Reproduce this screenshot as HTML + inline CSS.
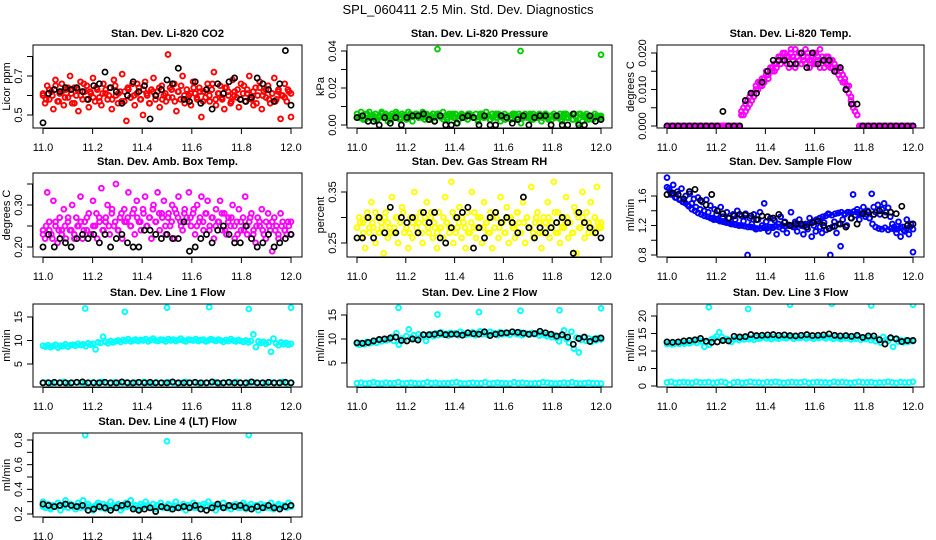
<!DOCTYPE html>
<html><head><meta charset="utf-8"><title>SPL_060411 Diagnostics</title>
<style>
body{margin:0;background:#fff;}
svg{display:block;font-family:"Liberation Sans",Arial,sans-serif;}
</style></head>
<body>
<svg id="chart" width="936" height="540" viewBox="0 0 936 540" xmlns="http://www.w3.org/2000/svg">
<text x="468" y="14" text-anchor="middle" font-size="13">SPL_060411  2.5 Min. Std. Dev. Diagnostics</text>
</svg>
<script>
// ---- data ----
const xTickVals=[11.0,11.2,11.4,11.6,11.8,12.0];
const xTickLabels=["11.0","11.2","11.4","11.6","11.8","12.0"];

const co2Red=[0.60,0.56,0.65,0.58,0.62,0.53,0.68,0.57,0.61,0.66,0.55,0.63,0.59,0.70,0.56,0.64,0.60,0.52,0.67,0.58,
0.62,0.65,0.54,0.61,0.69,0.57,0.63,0.59,0.55,0.66,0.61,0.58,0.64,0.53,0.68,0.60,0.56,0.62,0.71,0.57,
0.47,0.63,0.59,0.66,0.55,0.61,0.64,0.58,0.50,0.67,0.60,0.56,0.63,0.69,0.58,0.62,0.54,0.65,0.60,0.57,
0.81,0.64,0.59,0.66,0.52,0.62,0.58,0.70,0.56,0.63,0.60,0.55,0.67,0.61,0.58,0.64,0.49,0.62,0.59,0.66,
0.57,0.63,0.72,0.55,0.61,0.65,0.58,0.53,0.64,0.60,0.56,0.68,0.62,0.59,0.54,0.66,0.61,0.57,0.63,0.70,
0.58,0.55,0.64,0.60,0.67,0.53,0.62,0.59,0.65,0.56,0.61,0.69,0.58,0.63,0.48,0.60,0.66,0.57,0.62,0.49];
const co2RedCore=[0.61,0.58,0.63,0.60,0.65,0.57,0.62,0.59,0.64,0.61,0.56,0.63,0.60,0.66,0.58,0.62,0.59,0.64,0.57,0.61,
0.63,0.60,0.58,0.65,0.61,0.57,0.62,0.64,0.59,0.60,0.66,0.58,0.63,0.61,0.56,0.62,0.60,0.64,0.58,0.61,
0.59,0.63,0.57,0.62,0.65,0.60,0.58,0.61,0.64,0.59,0.62,0.57,0.63,0.60,0.66,0.58,0.61,0.59,0.64,0.62,
0.57,0.60,0.63,0.58,0.65,0.61,0.59,0.62,0.56,0.64,0.60,0.63,0.58,0.61,0.57,0.62,0.60,0.59,0.63,0.61];
const co2Black=[0.46,0.61,0.63,0.62,0.64,0.63,0.64,0.62,0.58,0.65,0.66,0.72,0.64,0.62,0.56,0.60,0.67,0.62,0.65,0.48,0.60,0.63,0.68,0.66,0.74,0.58,0.57,0.67,0.56,0.63,0.53,0.66,0.61,0.67,0.69,0.58,0.57,0.59,0.69,0.66,0.63,0.57,0.66,0.83,0.55];

const presGreen=[.006,.004,.007,.005,.003,.006,.007,.004,.005,.006,.003,.005,.007,.004,.006,.002,.005,.006,.004,.007,
.005,.003,.006,.005,.004,.007,.006,.002,.005,.006,.004,.005,.007,.003,.006,.005,.004,.006,.002,.005,
.006,.004,.007,.005,.003,.006,.005,.004,.006,.001,.005,.006,.004,.005,.003,.006,.005,.004,.006,.002,
.005,.006,.004,.007,.005,.003,.006,.005,.004,.006,.002,.005,.006,.004,.005,.003,.006,.005,.004,.006,
.001,.005,.006,.004,.005,.003,.006,.005,.004,.006,.002,.005,.006,.004,.005,.003,.006,.005,.004,.006,
.002,.005,.006,.004,.005,.003,.006,.005,.001,.006,.002,.005,.006,.004,.005,.003,.006,.005,.004,.005];
const presGreenCore=[.004,.005,.003,.006,.004,.005,.003,.004,.006,.005,.004,.003,.005,.006,.004,.005,.003,.004,.005,.006,
.005,.004,.006,.003,.005,.004,.006,.005,.003,.004,.005,.006,.004,.003,.005,.004,.006,.005,.004,.003,
.006,.004,.005,.003,.004,.006,.005,.004,.003,.005,.004,.006,.003,.005,.004,.005,.006,.003,.004,.005,
.004,.006,.003,.005,.004,.005,.003,.006,.004,.005,.003,.004,.006,.005,.004,.003,.005,.004,.005,.004];
const presOutX=[11.33,11.67,12.0];
const presOutY=[0.041,0.040,0.038];
const presBlack=[.004,.005,.002,.002,.000,.004,.001,.004,.000,.004,.005,.005,.006,.003,.002,.005,.000,.000,.001,.004,.005,.004,.000,.005,.000,.000,.005,.004,.001,.003,.005,.000,.004,.005,.005,.000,.005,.000,.000,.006,.000,.000,.005,.002,.003];

const tempMag=[0,0,0,0,0,0,0,0,0,0,0,0,0,0,0,0,0,0,0,0,0,0,0,0,0,0,0,0,0,0,0,0,0,0,0,0,
.004,.003,.006,.005,.008,.007,.009,.011,.010,.012,.011,.013,.014,.013,.015,.016,.015,.017,.018,
.019,.018,.020,.017,.019,.021,.018,.016,.019,.020,.017,.018,.021,.019,.016,.018,.020,.017,.019,.021,.018,.016,.019,.017,.018,.016,.017,
.015,.016,.013,.014,.012,.010,.011,.008,.006,.004,.003,
0,0,0,0,0,0,0,0,0,0,0,0,0,0,0,0,0,0,0,0,0,0,0,0,0,0,0];
const tempMagCore=[0,0,0,0,0,0,0,0,0,0,0,0,0,0,0,0,0,0,0,0,0,0,0,0,0,0,0,0,0,0,0,0,0,0,0,0,
.003,.005,.004,.007,.006,.009,.008,.010,.012,.011,.013,.012,.015,.014,.016,.015,.017,.016,.019,
.017,.020,.018,.019,.016,.020,.019,.021,.017,.018,.020,.019,.017,.020,.018,.019,.017,.020,.018,.016,.019,.018,.017,.019,.016,.018,.015,
.016,.014,.015,.012,.013,.011,.009,.007,.005,.004,.003,
0,0,0,0,0,0,0,0,0,0,0,0,0,0,0,0,0,0,0,0,0,0,0,0,0,0,0];
const tempBlack=[0,0,0,0,0,0,0,0,0,0,.004,0,0,0,.007,.009,.009,.012,.015,.018,.018,.018,.017,.017,.020,.016,.020,.017,.018,.018,.015,.016,.010,.006,.006,0,0,0,0,0,0,0,0,0,0];

const ambMag=[.24,.22,.33,.26,.23,.31,.25,.21,.27,.24,.29,.22,.26,.24,.30,.23,.27,.25,.32,.22,
.26,.24,.28,.23,.31,.25,.22,.27,.34,.24,.26,.30,.23,.28,.25,.35,.24,.27,.22,.29,
.26,.33,.25,.28,.23,.31,.26,.24,.29,.32,.25,.27,.22,.30,.26,.33,.24,.28,.31,.23,
.27,.25,.30,.22,.28,.32,.26,.24,.29,.27,.33,.25,.28,.23,.30,.26,.32,.24,.28,.31,
.25,.27,.22,.29,.26,.31,.24,.28,.23,.27,.25,.30,.22,.26,.29,.24,.27,.32,.23,.26,
.28,.24,.21,.27,.25,.29,.23,.26,.28,.24,.19,.27,.25,.22,.28,.26,.24,.23,.25,.26];
const ambMagCore=[.23,.25,.24,.22,.26,.24,.23,.25,.27,.24,.22,.25,.26,.24,.27,.23,.25,.28,.26,.24,.27,.25,.29,.26,.24,.28,.26,.27,.25,.29,.27,.26,.28,.25,.27,.29,.26,.28,.27,.25,.28,.26,.29,.27,.25,.28,.26,.27,.29,.25,.27,.26,.28,.24,.27,.25,.26,.28,.24,.26,.27,.25,.23,.26,.24,.25,.27,.23,.25,.26,.24,.22,.25,.26,.24,.23,.25,.24,.26,.23];
const ambBlack=[.20,.23,.20,.22,.21,.20,.22,.23,.22,.23,.21,.23,.20,.22,.23,.21,.20,.20,.24,.24,.23,.22,.23,.22,.22,.26,.19,.20,.22,.23,.21,.24,.25,.23,.21,.21,.25,.22,.20,.21,.23,.20,.21,.22,.23];

const rhYel=[.28,.30,.26,.29,.24,.31,.27,.33,.28,.25,.30,.27,.29,.23,.31,.26,.28,.34,.27,.30,
.25,.29,.32,.27,.28,.24,.30,.26,.35,.28,.27,.31,.25,.29,.33,.27,.30,.26,.28,.24,
.31,.28,.26,.34,.29,.27,.37,.25,.30,.28,.32,.26,.29,.24,.31,.27,.35,.28,.26,.30,
.28,.25,.33,.29,.27,.31,.24,.28,.30,.26,.34,.29,.27,.32,.25,.30,.28,.26,.31,.29,
.27,.33,.25,.30,.28,.36,.26,.29,.31,.27,.24,.30,.28,.33,.26,.29,.37,.27,.31,.25,
.28,.30,.34,.26,.29,.27,.32,.23,.30,.28,.35,.26,.31,.29,.33,.27,.30,.36,.28,.29];
const rhYelCore=[.28,.29,.27,.30,.28,.29,.31,.27,.28,.30,.29,.27,.28,.30,.29,.31,.28,.27,.29,.30,
.29,.27,.30,.28,.31,.29,.27,.28,.30,.29,.28,.31,.27,.29,.30,.28,.27,.29,.31,.28,
.30,.28,.29,.27,.30,.31,.28,.29,.27,.30,.29,.28,.31,.27,.29,.30,.28,.27,.30,.29,
.27,.29,.30,.28,.31,.27,.29,.28,.30,.29,.27,.31,.28,.30,.29,.27,.28,.30,.29,.28];
const rhBlack=[.26,.26,.30,.26,.30,.27,.32,.27,.30,.29,.30,.27,.31,.29,.31,.26,.25,.28,.30,.31,.32,.24,.28,.26,.30,.31,.29,.30,.29,.27,.34,.28,.26,.28,.27,.28,.29,.30,.29,.23,.31,.29,.28,.27,.26];

const flowBlue=[1.85,1.70,1.62,1.75,1.58,1.66,1.55,1.70,1.52,1.60,1.48,1.63,1.50,1.56,1.45,1.58,1.42,1.52,1.40,1.55,
1.38,1.47,1.30,1.42,1.35,1.28,1.45,1.32,1.25,1.38,1.30,1.22,1.35,1.28,1.40,1.20,1.33,1.26,1.36,0.80,
1.30,1.22,1.35,1.15,1.28,1.38,1.20,1.50,1.25,1.12,1.30,1.18,1.27,1.08,1.22,1.32,1.15,1.25,1.10,1.20,
1.38,1.18,1.25,1.12,1.28,1.20,1.08,1.22,1.15,1.30,1.05,1.20,1.12,1.26,1.18,1.10,1.24,1.14,1.36,0.80,
1.18,1.25,1.10,1.22,0.92,1.28,1.35,1.20,1.38,1.30,1.62,1.34,1.42,1.28,1.36,1.45,1.32,1.40,1.30,1.63,
1.45,1.38,1.48,1.35,1.42,1.50,1.38,1.44,1.32,1.22,1.15,1.10,1.25,1.05,1.18,1.12,1.28,1.08,1.22,0.84];
const flowBlueCore=[1.72,1.66,1.62,1.58,1.56,1.52,1.50,1.46,1.42,1.40,1.37,1.35,1.33,1.32,1.30,1.28,1.28,1.26,1.25,1.24,
1.23,1.22,1.21,1.20,1.20,1.19,1.18,1.18,1.17,1.16,1.16,1.17,1.16,1.18,1.17,1.19,1.18,1.20,1.19,1.21,
1.20,1.18,1.22,1.20,1.19,1.21,1.24,1.26,1.28,1.30,1.32,1.33,1.35,1.34,1.36,1.37,1.38,1.36,1.38,1.37,
1.39,1.38,1.36,1.37,1.35,1.30,1.22,1.18,1.16,1.15,1.17,1.14,1.16,1.18,1.15,1.17,1.14,1.16,1.18,1.15];
const flowBlack=[1.62,1.64,1.62,1.56,1.66,1.69,1.54,1.48,1.62,1.40,1.36,1.30,1.33,1.35,1.34,1.33,1.28,1.33,1.32,1.30,1.35,1.24,1.20,1.22,1.22,1.18,1.24,1.26,1.20,1.16,1.19,1.22,1.18,1.30,1.22,1.36,1.38,1.35,1.40,1.34,1.38,1.36,1.46,1.20,1.22];

const l1Cyan=[8.9,8.7,9.0,8.6,8.8,9.1,8.5,8.9,8.8,9.2,8.7,9.0,9.1,8.9,9.3,9.0,9.2,8.8,9.4,9.1,
9.3,8.1,9.6,9.5,10.8,9.7,9.4,9.9,9.6,9.8,10.0,9.7,10.1,9.9,10.3,9.8,10.0,10.2,9.9,10.1,
10.0,10.3,9.8,10.1,10.4,10.0,9.9,10.2,10.1,9.8,10.3,10.0,10.2,9.9,10.1,10.4,10.0,9.8,10.2,10.1,
10.0,10.3,9.9,10.1,10.2,9.8,10.0,10.3,10.1,9.9,10.2,10.0,9.7,10.1,9.9,10.3,10.0,9.8,10.1,9.9,
9.7,10.0,9.6,9.9,11.3,8.6,9.8,9.5,9.7,9.3,9.6,7.6,10.4,9.4,9.0,9.6,9.2,9.5,9.1,9.3];
const l1CyanLow=[1.0,1.1,0.9,1.0,1.0,1.2,0.9,1.0,1.1,1.0,0.9,1.0,1.1,1.0,1.2,1.0,0.9,1.1,1.0,1.0,
1.1,0.9,1.0,1.0,1.2,1.0,0.9,1.1,1.0,1.0,1.1,1.0,0.9,1.0,1.2,1.0,1.1,0.9,1.0,1.0,
1.0,1.1,0.9,1.0,1.1,1.0,1.2,1.0,0.9,1.0,1.1,1.0,1.0,0.9,1.1,1.0,1.0,1.2,0.9,1.0];
const l1OutX=[11.17,11.33,11.5,11.67,11.83,12.0];
const l1OutY=[16.8,16.1,17.0,17.1,16.7,17.0];
const l1Black=[1.0,1.0,1.1,1.0,1.0,1.0,1.1,1.2,1.0,1.0,1.0,1.1,1.0,1.0,1.2,1.0,1.0,1.1,1.0,1.1,1.0,1.0,1.0,1.2,1.0,1.0,1.0,1.1,1.0,1.0,1.2,1.0,1.0,1.1,1.0,1.0,1.0,1.2,1.0,1.0,1.1,1.0,1.0,1.1,1.0];

const l2Cyan=[9.0,8.8,9.2,8.9,9.4,9.1,9.3,9.6,9.2,9.8,9.5,10.0,9.7,9.9,10.4,9.6,11.2,8.8,10.1,9.8,
10.6,12.0,10.3,10.8,10.0,11.0,10.5,10.9,9.6,10.7,11.0,10.6,11.2,10.8,11.4,10.9,11.1,10.7,11.3,11.0,
11.2,10.8,11.5,11.1,10.9,11.3,11.0,11.4,10.8,11.2,11.6,11.0,11.3,10.9,11.5,11.1,11.2,10.8,11.4,11.0,
11.3,11.1,10.9,11.5,11.2,11.0,11.4,10.8,11.2,11.1,10.9,11.3,11.0,11.2,10.7,11.1,10.9,10.6,11.0,10.4,
10.8,10.2,9.5,10.6,11.8,10.0,9.2,11.5,8.0,10.3,7.2,9.8,10.4,9.6,10.1,9.4,10.0,9.7,10.2,9.9];
const l2CyanLow=[0.8,0.9,0.7,0.8,1.0,0.8,0.7,0.9,0.8,0.8,1.0,0.7,0.8,0.9,0.8,0.7,0.8,1.0,0.8,0.9,
0.7,0.8,0.8,0.9,1.0,0.8,0.7,0.8,0.9,0.8,0.8,1.0,0.7,0.8,0.9,0.8,0.8,0.7,1.0,0.8,
0.9,0.8,0.7,0.8,0.8,1.0,0.9,0.8,0.7,0.8,0.9,0.8,1.0,0.8,0.7,0.8,0.9,0.8,0.8,0.7];
const l2OutX=[11.17,11.33,11.5,11.67,11.83,12.0];
const l2OutY=[16.5,15.1,15.6,15.9,16.0,16.4];
const l2Black=[9.2,9.1,9.3,9.6,9.9,10.0,10.2,10.4,9.7,9.6,10.0,9.8,10.9,10.9,11.0,11.2,10.9,11.0,11.0,10.8,11.3,11.1,11.0,11.5,10.7,11.0,11.2,11.3,11.5,11.4,11.2,11.0,11.1,11.6,11.3,11.0,10.6,10.9,10.4,8.9,10.1,10.4,9.5,10.0,10.2];

const l3Cyan=[12.0,12.2,11.9,12.1,12.3,12.0,12.4,12.1,12.5,12.2,12.6,12.8,12.3,13.0,12.7,11.2,12.5,11.8,13.4,13.6,
14.2,15.3,14.0,13.2,13.5,13.0,12.6,13.3,13.8,13.1,13.6,13.3,13.9,13.4,13.7,13.2,13.9,13.5,13.8,14.1,
13.6,13.9,13.4,14.0,13.7,13.5,14.2,13.8,13.6,14.0,13.9,13.5,14.1,13.7,13.8,14.2,13.6,14.0,13.8,13.5,
14.0,13.7,14.1,13.9,13.6,14.0,13.8,13.5,14.1,13.7,13.4,13.9,13.6,14.0,13.3,13.7,13.5,14.2,13.2,13.6,
13.4,13.9,13.1,13.6,12.8,13.5,12.4,14.0,13.2,12.9,13.6,11.2,13.3,12.7,13.1,12.5,13.0,12.6,12.9,12.8];
const l3CyanLow=[1.0,1.2,0.9,1.0,1.1,1.0,0.9,1.2,1.0,1.0,1.1,0.9,1.0,1.2,1.0,0.4,1.0,1.1,0.9,1.0,
1.2,1.0,1.0,0.9,1.1,1.0,1.2,1.0,0.9,1.0,1.1,1.0,1.0,1.2,0.9,1.0,1.1,1.0,1.0,0.9,
1.2,1.0,1.1,1.0,0.9,1.0,1.2,1.0,1.0,1.1,0.9,1.0,1.0,1.2,1.0,0.9,1.1,1.0,1.0,1.2];
const l3OutX=[11.17,11.33,11.5,11.67,11.83,12.0];
const l3OutY=[22.5,22.0,23.2,23.5,23.0,23.2];
const l3Black=[12.6,12.5,12.6,12.9,13.0,13.2,13.6,12.8,12.5,12.6,13.0,12.9,14.2,14.0,14.1,14.7,14.4,14.5,14.6,14.7,14.5,14.6,14.4,14.3,14.5,14.7,14.4,14.5,14.6,14.9,14.5,14.3,14.4,14.2,14.5,13.9,14.3,14.3,13.2,12.0,13.8,13.5,12.7,13.0,13.0];

const l4Cyan=[.30,.25,.28,.24,.27,.26,.29,.23,.27,.31,.25,.28,.26,.24,.29,.27,.31,.25,.28,.26,
.23,.27,.29,.25,.28,.24,.26,.30,.27,.25,.28,.23,.26,.29,.27,.31,.25,.27,.24,.28,
.26,.30,.27,.25,.28,.24,.27,.29,.25,.26,.28,.24,.27,.30,.26,.25,.28,.23,.27,.26,
.29,.25,.27,.24,.28,.26,.30,.25,.27,.23,.28,.26,.29,.25,.27,.24,.26,.28,.25,.27,
.29,.24,.26,.28,.25,.27,.23,.28,.26,.25,.27,.29,.24,.26,.28,.25,.27,.26,.29,.27];
const l4CyanCore=[.26,.27,.25,.26,.27,.26,.25,.27,.26,.25,.27,.26,.25,.27,.26,.27,.25,.26,.27,.25,
.26,.27,.25,.26,.27,.26,.25,.27,.26,.25,.27,.26,.26,.25,.27,.26,.25,.27,.26,.27,
.25,.26,.27,.25,.26,.27,.26,.25,.27,.26,.25,.27,.26,.27,.25,.26,.27,.26,.25,.26];
const l4OutX=[11.17,11.5,11.83];
const l4OutY=[0.84,0.79,0.84];
const l4Black=[.28,.27,.26,.27,.28,.27,.26,.27,.23,.24,.26,.25,.23,.25,.27,.28,.24,.23,.24,.25,.22,.26,.25,.24,.25,.26,.25,.27,.24,.23,.25,.28,.25,.27,.26,.27,.25,.24,.26,.25,.27,.25,.24,.26,.27];

// ---- layout ----
const XL=[33,347,657], XR=[302,612,924], YT=[45,173,304,433], YB=[128,257,387,517];
const panels=[
 {id:"co2",col:0,row:0,title:"Stan. Dev. Li-820 CO2",ylab:"Licor ppm",yr:[0.5,115,0.7,76],ticks:[0.5,0.6,0.7,0.8],labs:{"0.5":"0.5","0.7":"0.7"},
  layers:[[co2Red,"#ff0000"],[co2RedCore,"#ff0000"]],out:null,black:co2Black},
 {id:"pressure",col:1,row:0,title:"Stan. Dev. Li-820 Pressure",ylab:"kPa",yr:[0,125,0.04,51],ticks:[0,0.01,0.02,0.03,0.04],labs:{"0":"0.00","0.02":"0.02","0.04":"0.04"},
  layers:[[presGreen,"#00cc00"],[presGreenCore,"#00cc00"]],out:[presOutX,presOutY,"#00cc00"],black:presBlack},
 {id:"temp",col:2,row:0,title:"Stan. Dev. Li-820 Temp.",ylab:"degrees C",yr:[0,126,0.02,53],ticks:[0,0.005,0.01,0.015,0.02],labs:{"0":"0.000","0.01":"0.010","0.02":"0.020"},
  layers:[[tempMag,"#ff00ff"],[tempMagCore,"#ff00ff"]],out:null,black:tempBlack},
 {id:"amb-box-temp",col:0,row:1,title:"Stan. Dev. Amb. Box Temp.",ylab:"degrees C",yr:[0.2,247,0.3,205],ticks:[0.2,0.25,0.3,0.35],labs:{"0.2":"0.20","0.3":"0.30"},
  layers:[[ambMag,"#ff00ff"],[ambMagCore,"#ff00ff"]],out:null,black:ambBlack},
 {id:"gas-rh",col:1,row:1,title:"Stan. Dev. Gas Stream RH",ylab:"percent",yr:[0.25,243,0.35,192],ticks:[0.25,0.3,0.35],labs:{"0.25":"0.25","0.35":"0.35"},
  layers:[[rhYel,"#ffff00"],[rhYelCore,"#ffff00"]],out:null,black:rhBlack},
 {id:"sample-flow",col:2,row:1,title:"Stan. Dev. Sample Flow",ylab:"ml/min",yr:[0.8,255,1.6,196],ticks:[0.8,1.0,1.2,1.4,1.6],labs:{"0.8":"0.8","1.2":"1.2","1.6":"1.6"},
  layers:[[flowBlue,"#0000ff"],[flowBlueCore,"#0000ff"]],out:null,black:flowBlack},
 {id:"line1",col:0,row:2,title:"Stan. Dev. Line 1 Flow",ylab:"ml/min",yr:[5,364,15,317],ticks:[5,10,15],labs:{"5":"5","10":"10","15":"15"},
  layers:[[l1Cyan,"#00ffff"],[l1CyanLow,"#00ffff"]],out:[l1OutX,l1OutY,"#00ffff"],black:l1Black},
 {id:"line2",col:1,row:2,title:"Stan. Dev. Line 2 Flow",ylab:"ml/min",yr:[5,363,15,315],ticks:[5,10,15],labs:{"5":"5","10":"10","15":"15"},
  layers:[[l2Cyan,"#00ffff"],[l2CyanLow,"#00ffff"]],out:[l2OutX,l2OutY,"#00ffff"],black:l2Black},
 {id:"line3",col:2,row:2,title:"Stan. Dev. Line 3 Flow",ylab:"ml/min",yr:[0,386,20,316],ticks:[0,5,10,15,20],labs:{"0":"0","5":"5","10":"10","15":"15","20":"20"},
  layers:[[l3Cyan,"#00ffff"],[l3CyanLow,"#00ffff"]],out:[l3OutX,l3OutY,"#00ffff"],black:l3Black},
 {id:"line4",col:0,row:3,title:"Stan. Dev. Line 4 (LT) Flow",ylab:"ml/min",yr:[0.2,514,0.8,440],ticks:[0.2,0.3,0.4,0.5,0.6,0.7,0.8],labs:{"0.2":"0.2","0.4":"0.4","0.6":"0.6","0.8":"0.8"},
  layers:[[l4Cyan,"#00ffff"],[l4CyanCore,"#00ffff"]],out:[l4OutX,l4OutY,"#00ffff"],black:l4Black}
];

const NS="http://www.w3.org/2000/svg";
const svg=document.getElementById("chart");
function mk(tag,attrs,parent){const e=document.createElementNS(NS,tag);for(const k in attrs)e.setAttribute(k,attrs[k]);(parent||svg).appendChild(e);return e;}

panels.forEach(p=>{
  const L=XL[p.col],R=XR[p.col],T=YT[p.row],B=YB[p.row];
  const xs=t=>L+10+(t-11)*(R-11-L-10);
  const ys=v=>p.yr[1]+(v-p.yr[0])*(p.yr[3]-p.yr[1])/(p.yr[2]-p.yr[0]);
  const g=mk("g",{});
  
  
  const cp=mk("clipPath",{id:"clip-"+p.id},g);
  mk("rect",{x:L,y:T,width:R-L,height:B-T},cp);
  const pts=mk("g",{"clip-path":"url(#clip-"+p.id+")",fill:"none"},g);
  
  
  p.layers.forEach(([vals,col])=>{
    const n=vals.length;
    vals.forEach((v,i)=>{
      const c=mk("circle",{cx:xs(11+i/(n-1)).toFixed(1),cy:ys(v).toFixed(1),r:2.4,stroke:col,"stroke-width":1.9},pts);
      
      
    });
  });
  if(p.out){
    p.out[0].forEach((t,i)=>{
      const c=mk("circle",{cx:xs(t).toFixed(1),cy:ys(p.out[1][i]).toFixed(1),r:2.4,stroke:p.out[2],"stroke-width":1.9},pts);
      
      
    });
  }
  const nb=p.black.length;
  p.black.forEach((v,i)=>{
    const c=mk("circle",{cx:xs(11+i/(nb-1)).toFixed(1),cy:ys(v).toFixed(1),r:2.6,stroke:"#000","stroke-width":1.7},pts);
    
    
  });
  const box=mk("rect",{x:L,y:T,width:R-L,height:B-T,fill:"none",stroke:"#000","stroke-width":1},g);
  
  
  const ti=mk("text",{x:(L+R)/2,y:T-8,"text-anchor":"middle","font-size":11,"font-weight":"bold"},g);
  ti.textContent=p.title;
  
  
  mk("line",{x1:xs(11),x2:xs(12),y1:B+0.5,y2:B+0.5,stroke:"#000"},g);
  xTickVals.forEach((t,i)=>{
    const x=xs(t);
    mk("line",{x1:x,x2:x,y1:B,y2:B+6,stroke:"#000"},g);
    const lb=mk("text",{x:x,y:B+23,"text-anchor":"middle","font-size":11},g);
    lb.textContent=xTickLabels[i];
    
    
  });
  p.ticks.forEach(v=>{
    const y=ys(v);
    mk("line",{x1:L-6,x2:L,y1:y,y2:y,stroke:"#000"},g);
    const key=String(+v.toFixed(4));
    if(p.labs[key]!==undefined){
      const lb=mk("text",{x:0,y:0,"text-anchor":"middle","font-size":11,transform:"translate("+(L-11)+","+y.toFixed(1)+") rotate(-90)"},g);
      lb.textContent=p.labs[key];
      
      
    }
  });
  const y0=ys(p.ticks[0]),y1=ys(p.ticks[p.ticks.length-1]);
  mk("line",{x1:L-0.5,x2:L-0.5,y1:y0,y2:y1,stroke:"#000"},g);
  const yl=mk("text",{x:0,y:0,"text-anchor":"middle","font-size":11,transform:"translate("+(L-23)+","+((T+B)/2)+") rotate(-90)"},g);
  yl.textContent=p.ylab;
  
  
});
</script>
</body></html>
